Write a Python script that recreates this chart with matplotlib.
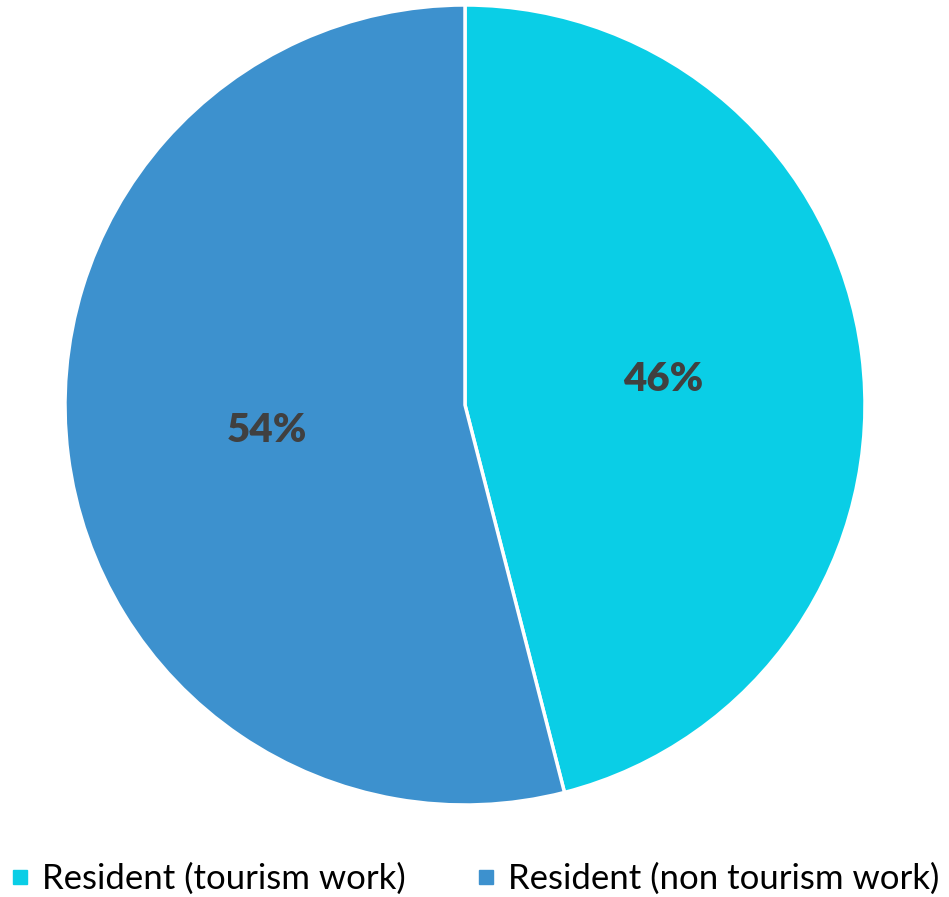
import matplotlib.pyplot as plt
from matplotlib.lines import Line2D

labels = ["Resident (tourism work)", "Resident (non tourism work)"]
shares = [46, 54]
colors = ["#0ACEE6", "#3D91CE"]

plt.rcParams["font.family"] = ["Lato", "DejaVu Sans"]

fig = plt.figure(figsize=(9.49, 8.97), dpi=100)
ax = fig.add_axes([65 / 949, 92 / 897, 800 / 949, 800 / 897])

wedges, texts, autotexts = ax.pie(
    shares, colors=colors, startangle=90, counterclock=False,
    autopct="%d%%", pctdistance=0.5,
    wedgeprops=dict(edgecolor="white", linewidth=2.5),
    textprops=dict(color="#404040", fontsize=29, fontweight="heavy"),
)
ax.set_xlim(-1, 1)
ax.set_ylim(-1, 1)
ax.set_aspect("equal")

handles = [Line2D([], [], marker="s", linestyle="none", markersize=10,
                  markerfacecolor=c, markeredgecolor=c) for c in colors]
fig.legend(handles, labels, loc="center", bbox_to_anchor=(0.5, 1 - 879 / 897),
           ncol=2, frameon=False, handletextpad=0.35, columnspacing=2.0,
           handlelength=0.6, borderpad=0, prop=dict(size=25))

fig.savefig("out.png", dpi=100)
